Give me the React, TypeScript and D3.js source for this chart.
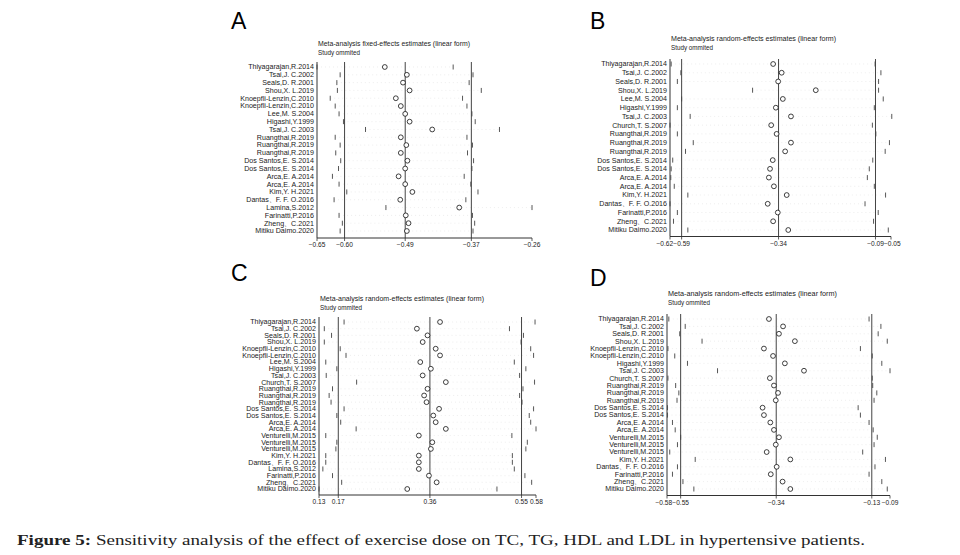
import React from 'react'
import * as d3 from 'd3';

// study names per panel
const studiesA = ["Thiyagarajan,R.2014", "Tsai,J. C.2002", "Seals,D. R.2001", "Shou,X. L.2019", "Knoepfli-Lenzin,C.2010", "Knoepfli-Lenzin,C.2010", "Lee,M. S.2004", "Higashi,Y.1999", "Tsai,J. C.2003", "Ruangthai,R.2019", "Ruangthai,R.2019", "Ruangthai,R.2019", "Dos Santos,E. S.2014", "Dos Santos,E. S.2014", "Arca,E. A.2014", "Arca,E. A.2014", "Kim,Y. H.2021", "Dantas\u3001F. F. O.2016", "Lamina,S.2012", "Farinatti,P.2016", "Zheng\u3001C.2021", "Mitiku Daimo.2020"];
const estA = [-0.527, -0.487, -0.494, -0.482, -0.507, -0.498, -0.490, -0.482, -0.441, -0.498, -0.488, -0.498, -0.486, -0.490, -0.502, -0.490, -0.477, -0.499, -0.392, -0.489, -0.484, -0.487];
const lowA = [-0.650, -0.608, -0.614, -0.613, -0.626, -0.617, -0.610, -0.602, -0.562, -0.617, -0.608, -0.616, -0.607, -0.611, -0.622, -0.610, -0.596, -0.619, -0.525, -0.610, -0.604, -0.608];
const highA = [-0.403, -0.367, -0.374, -0.352, -0.386, -0.378, -0.369, -0.363, -0.319, -0.378, -0.368, -0.377, -0.366, -0.369, -0.383, -0.371, -0.358, -0.380, -0.260, -0.368, -0.364, -0.367];
const ticksA = [-0.65, -0.60, -0.49, -0.37, -0.26];

const studiesB = ["Thiyagarajan,R.2014", "Tsai,J. C.2002", "Seals,D. R.2001", "Shou,X. L.2019", "Lee,M. S.2004", "Higashi,Y.1999", "Tsai,J. C.2003", "Church,T. S.2007", "Ruangthai,R.2019", "Ruangthai,R.2019", "Ruangthai,R.2019", "Dos Santos,E. S.2014", "Dos Santos,E. S.2014", "Arca,E. A.2014", "Arca,E. A.2014", "Kim,Y. H.2021", "Dantas\u3001F. F. O.2016", "Farinatti,P.2016", "Zheng\u3001C.2021", "Mitiku Daimo.2020"];
const estB = [-0.354, -0.332, -0.341, -0.244, -0.329, -0.347, -0.308, -0.359, -0.345, -0.308, -0.323, -0.355, -0.362, -0.365, -0.352, -0.319, -0.368, -0.342, -0.354, -0.315];
const lowB = [-0.617, -0.592, -0.601, -0.407, -0.590, -0.601, -0.568, -0.620, -0.601, -0.560, -0.580, -0.613, -0.617, -0.618, -0.609, -0.574, -0.620, -0.601, -0.611, -0.574];
const highB = [-0.091, -0.076, -0.082, -0.082, -0.070, -0.093, -0.048, -0.098, -0.089, -0.054, -0.065, -0.097, -0.106, -0.111, -0.093, -0.064, -0.117, -0.083, -0.095, -0.057];
const ticksB = [-0.62, -0.59, -0.34, -0.09, -0.05];

const studiesC = ["Thiyagarajan,R.2014", "Tsai,J. C.2002", "Seals,D. R.2001", "Shou,X. L.2019", "Knoepfli-Lenzin,C.2010", "Knoepfli-Lenzin,C.2010", "Lee,M. S.2004", "Higashi,Y.1999", "Tsai,J. C.2003", "Church,T. S.2007", "Ruangthai,R.2019", "Ruangthai,R.2019", "Ruangthai,R.2019", "Dos Santos,E. S.2014", "Dos Santos,E. S.2014", "Arca,E. A.2014", "Arca,E. A.2014", "Venturelli,M.2015", "Venturelli,M.2015", "Venturelli,M.2015", "Kim,Y. H.2021", "Dantas\u3001F. F. O.2016", "Lamina,S.2012", "Farinatti,P.2016", "Zheng\u3001C.2021", "Mitiku Daimo.2020"];
const estC = [0.381, 0.333, 0.355, 0.345, 0.372, 0.381, 0.340, 0.362, 0.345, 0.393, 0.355, 0.348, 0.353, 0.379, 0.367, 0.372, 0.393, 0.337, 0.365, 0.362, 0.337, 0.337, 0.337, 0.358, 0.374, 0.313];
const lowC = [0.182, 0.141, 0.156, 0.141, 0.174, 0.186, 0.144, 0.167, 0.145, 0.208, 0.158, 0.151, 0.155, 0.182, 0.167, 0.175, 0.207, 0.144, 0.167, 0.165, 0.144, 0.144, 0.138, 0.158, 0.177, 0.130];
const highC = [0.578, 0.525, 0.554, 0.549, 0.569, 0.575, 0.535, 0.559, 0.546, 0.577, 0.553, 0.546, 0.551, 0.575, 0.566, 0.569, 0.580, 0.530, 0.562, 0.559, 0.531, 0.531, 0.535, 0.557, 0.571, 0.499];
const ticksC = [0.13, 0.17, 0.36, 0.55, 0.58];

const studiesD = ["Thiyagarajan,R.2014", "Tsai,J. C.2002", "Seals,D. R.2001", "Shou,X. L.2019", "Knoepfli-Lenzin,C.2010", "Knoepfli-Lenzin,C.2010", "Higashi,Y.1999", "Tsai,J. C.2003", "Church,T. S.2007", "Ruangthai,R.2019", "Ruangthai,R.2019", "Ruangthai,R.2019", "Dos Santos,E. S.2014", "Dos Santos,E. S.2014", "Arca,E. A.2014", "Arca,E. A.2014", "Venturelli,M.2015", "Venturelli,M.2015", "Venturelli,M.2015", "Kim,Y. H.2021", "Dantas\u3001F. F. O.2016", "Farinatti,P.2016", "Zheng\u3001C.2021", "Mitiku Daimo.2020"];
const estD = [-0.356, -0.325, -0.334, -0.299, -0.367, -0.347, -0.321, -0.279, -0.354, -0.345, -0.336, -0.341, -0.370, -0.367, -0.353, -0.345, -0.334, -0.341, -0.361, -0.309, -0.339, -0.352, -0.326, -0.309];
const lowD = [-0.576, -0.540, -0.552, -0.503, -0.578, -0.563, -0.535, -0.469, -0.578, -0.561, -0.554, -0.558, -0.579, -0.579, -0.568, -0.562, -0.550, -0.557, -0.574, -0.518, -0.557, -0.568, -0.545, -0.521];
const highD = [-0.136, -0.110, -0.116, -0.096, -0.155, -0.129, -0.108, -0.090, -0.129, -0.128, -0.119, -0.125, -0.160, -0.155, -0.136, -0.127, -0.118, -0.125, -0.150, -0.100, -0.123, -0.136, -0.108, -0.096];
const ticksD = [-0.58, -0.55, -0.34, -0.13, -0.09];

const titleFixed = "Meta-analysis fixed-effects estimates (linear form)";
const titleRandom = "Meta-analysis random-effects estimates (linear form)";

const FONT = "'Liberation Sans', Arial, sans-serif";

const Panel = ({ letter, letterPos, title, titleY, titleW, studies, est, low, high, ticks, xRange, rowTop, rowBottom, axisY }) => {
    const x = d3.scaleLinear().domain([ticks[0], ticks[ticks.length - 1]]).range(xRange);
    const y = d3.scalePoint().domain(d3.range(studies.length)).range([rowTop, rowBottom]);
    const lineTop = rowTop - 5;
    const refs = ticks.slice(1, 4);
    const n = ticks.length;

    // crowded end labels sit side by side, as in the printed figure
    const tickLabel = (t, i) => {
        const fs = 6.6, half = 8.2;
        if (i === 0 && x(ticks[1]) - x(t) < 2 * half) {
            return <text x={x(ticks[1]) - half - 0.3} y={axisY + 9} fontSize={fs} fontFamily={FONT} textAnchor="end" fill="#222">{d3.format(".2f")(t)}</text>
        }
        if (i === n - 1 && x(t) - x(ticks[n - 2]) < 2 * half) {
            return <text x={x(ticks[n - 2]) + half + 0.3} y={axisY + 9} fontSize={fs} fontFamily={FONT} textAnchor="start" fill="#222">{d3.format(".2f")(t)}</text>
        }
        return <text x={x(t)} y={axisY + 9} fontSize={fs} fontFamily={FONT} textAnchor="middle" fill="#222">{d3.format(".2f")(t)}</text>
    }

    return (
        <g>
            <text x={letterPos[0]} y={letterPos[1]} fontSize={23} fontFamily={FONT}>{letter}</text>
            <text x={xRange[0] + 1} y={titleY} fontSize={6.3} fontFamily={FONT} fill="#222"
                textLength={titleW} lengthAdjust="spacingAndGlyphs">{title}</text>
            <text x={xRange[0] + 1} y={titleY + 9} fontSize={6.3} fontFamily={FONT} fill="#222">Study ommited</text>

            {/* faint dotted guides */}
            {studies.map((s, i) => (
                <line key={'g' + i} x1={x(low[i])} x2={x(high[i])} y1={y(i)} y2={y(i)}
                    stroke="#e2e2e2" strokeWidth={0.6} strokeDasharray="1,3" />
            ))}

            {/* left frame + reference lines */}
            <line x1={xRange[0]} x2={xRange[0]} y1={lineTop} y2={axisY} stroke="#333" strokeWidth={1} />
            {refs.map((t, i) => (
                <line key={'r' + i} x1={x(t)} x2={x(t)} y1={lineTop} y2={axisY} stroke="#444" strokeWidth={1} />
            ))}

            {studies.map((s, i) => (
                <g key={'s' + i}>
                    <text x={xRange[0] - 3} y={y(i) + 2.4} fontSize={7.1} fontFamily={FONT} textAnchor="end" fill="#222">{s}</text>
                    <line x1={x(low[i])} x2={x(low[i])} y1={y(i) - 2.5} y2={y(i) + 2.5} stroke="#444" strokeWidth={0.9} />
                    <line x1={x(high[i])} x2={x(high[i])} y1={y(i) - 2.5} y2={y(i) + 2.5} stroke="#444" strokeWidth={0.9} />
                    <circle cx={x(est[i])} cy={y(i)} r={2.4} fill="white" stroke="#111" strokeWidth={0.8} />
                </g>
            ))}

            {/* x axis */}
            <line x1={xRange[0]} x2={xRange[1]} y1={axisY} y2={axisY} stroke="#333" strokeWidth={1} />
            {ticks.map((t, i) => (
                <g key={'t' + i}>
                    <line x1={x(t)} x2={x(t)} y1={axisY} y2={axisY + 3} stroke="#333" strokeWidth={0.8} />
                    {tickLabel(t, i)}
                </g>
            ))}
        </g>
    )
}

const App = () => {
    return (
        <svg width={960} height={555} style={{ position: 'absolute', left: 0, top: 0, background: 'white' }}>
            <Panel letter="A" letterPos={[231, 29]} title={titleFixed} titleY={46} titleW={152}
                studies={studiesA} est={estA} low={lowA} high={highA} ticks={ticksA}
                xRange={[317, 532]} rowTop={67} rowBottom={231} axisY={238} />
            <Panel letter="B" letterPos={[590, 29]} title={titleRandom} titleY={41} titleW={165}
                studies={studiesB} est={estB} low={lowB} high={highB} ticks={ticksB}
                xRange={[670, 891]} rowTop={64} rowBottom={230} axisY={236.5} />
            <Panel letter="C" letterPos={[231, 281]} title={titleRandom} titleY={301} titleW={164}
                studies={studiesC} est={estC} low={lowC} high={highC} ticks={ticksC}
                xRange={[319, 536]} rowTop={322} rowBottom={489} axisY={495} />
            <Panel letter="D" letterPos={[590, 286]} title={titleRandom} titleY={296} titleW={169}
                studies={studiesD} est={estD} low={lowD} high={highD} ticks={ticksD}
                xRange={[667, 890]} rowTop={319} rowBottom={489} axisY={495.5} />

            <text x={17} y={545} fontSize={15.5} fontFamily="'Liberation Serif', 'DejaVu Serif', serif" fill="#222"
                textLength={848} lengthAdjust="spacingAndGlyphs">
                <tspan fontWeight="bold">Figure 5:</tspan> Sensitivity analysis of the effect of exercise dose on TC, TG, HDL and LDL in hypertensive patients.
            </text>
        </svg>
    )
}

export default App
